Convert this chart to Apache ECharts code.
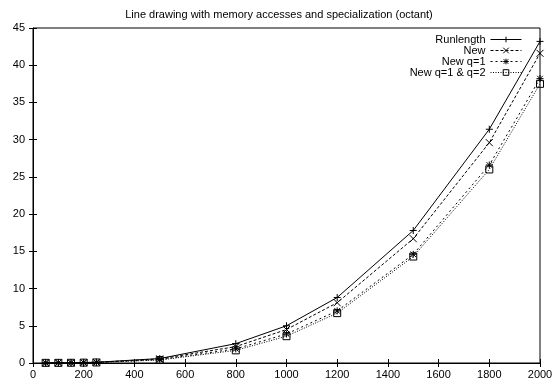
<!DOCTYPE html>
<html><head><meta charset="utf-8">
<script src="https://cdn.jsdelivr.net/npm/echarts@6/dist/echarts.min.js"></script>
<style>html,body{margin:0;padding:0;background:#fff}#c{width:558px;height:383px}</style>
</head><body><div id="c"></div>
<script>
const titleText = 'Line drawing with memory accesses and specialization (octant)';
const xValues = [50, 100, 150, 200, 250, 500, 800, 1000, 1200, 1500, 1800, 2000];
const runlength = [0.02, 0.03, 0.05, 0.07, 0.1, 0.6, 2.6, 5.0, 8.8, 17.8, 31.4, 43.2];
const newAlg = [0.02, 0.03, 0.04, 0.06, 0.09, 0.55, 2.2, 4.5, 8.1, 16.7, 29.6, 41.6];
const newQ1 = [0.02, 0.03, 0.04, 0.05, 0.08, 0.45, 1.9, 3.9, 7.0, 14.6, 26.6, 38.2];
const newQ12 = [0.02, 0.02, 0.03, 0.05, 0.07, 0.4, 1.7, 3.6, 6.7, 14.3, 26.0, 37.5];
const seriesNames = ['Runlength', 'New', 'New q=1', 'New q=1 & q=2'];

const pair = arr => xValues.map((x, i) => [x, arr[i]]);
const SYM = {
  plus: 'path://M0,5L10,5M5,0L5,10',
  cross: 'path://M0,0L10,10M10,0L0,10',
  star: 'path://M0,5L10,5M5,0L5,10M1,1L9,9M9,1L1,9',
  square: 'path://M0,0L10,0L10,10L0,10Z'
};
const font = 'Liberation Sans, Arial, sans-serif';
function mk(name, data, dash, sym) {
  return {
    name, type: 'line', data: pair(data),
    symbol: sym, symbolSize: 7,
    itemStyle: { color: 'rgba(0,0,0,0)', borderColor: '#000', borderWidth: 1 },
    lineStyle: { color: '#000', width: 1, type: dash },
    emphasis: { disabled: true },
    animation: false
  };
}
const chart = echarts.init(document.getElementById('c'), null, { renderer: 'canvas' });
const tickCommon = { inside: true, length: 4, lineStyle: { color: '#000' } };
const plain = v => String(v);
chart.setOption({
  animation: false,
  backgroundColor: '#fff',
  title: { text: titleText, left: 'center', top: 4, textStyle: { fontFamily: font, fontSize: 11, fontWeight: 'normal', color: '#000' } },
  grid: { left: 33, right: 18, top: 28, bottom: 20, show: true, borderColor: '#000', borderWidth: 1, containLabel: false },
  legend: {
    orient: 'vertical', right: 31, top: 29, align: 'right',
    itemWidth: 31, itemHeight: 7, itemGap: 0,
    itemStyle: { color: 'rgba(0,0,0,0)', borderColor: '#000', borderWidth: 1 },
    lineStyle: { color: '#000', width: 1 },
    textStyle: { fontFamily: font, fontSize: 11, lineHeight: 10, color: '#000', padding: [0, 0, 0, 0] },
    data: seriesNames
  },
  xAxis: [
    { type: 'value', min: 0, max: 2000, interval: 200, axisLine: { show: true, lineStyle: { color: '#000' } }, axisTick: tickCommon, splitLine: { show: false },
      axisLabel: { fontFamily: font, fontSize: 11, color: '#000', margin: 6, formatter: plain } },
    { type: 'value', position: 'top', min: 0, max: 2000, interval: 200, axisLine: { show: false }, axisTick: tickCommon, splitLine: { show: false }, axisLabel: { show: false } }
  ],
  yAxis: [
    { type: 'value', min: 0, max: 45, interval: 5, axisLine: { show: true, lineStyle: { color: '#000' } }, axisTick: tickCommon, splitLine: { show: false },
      axisLabel: { fontFamily: font, fontSize: 11, color: '#000', margin: 8, formatter: plain } },
    { type: 'value', position: 'right', min: 0, max: 45, interval: 5, axisLine: { show: false }, axisTick: tickCommon, splitLine: { show: false }, axisLabel: { show: false } }
  ],
  series: [
    mk(seriesNames[0], runlength, 'solid', SYM.plus),
    mk(seriesNames[1], newAlg, [3, 2], SYM.cross),
    mk(seriesNames[2], newQ1, [2, 3], SYM.star),
    mk(seriesNames[3], newQ12, [1, 1.5], SYM.square)
  ]
});
</script></body></html>
